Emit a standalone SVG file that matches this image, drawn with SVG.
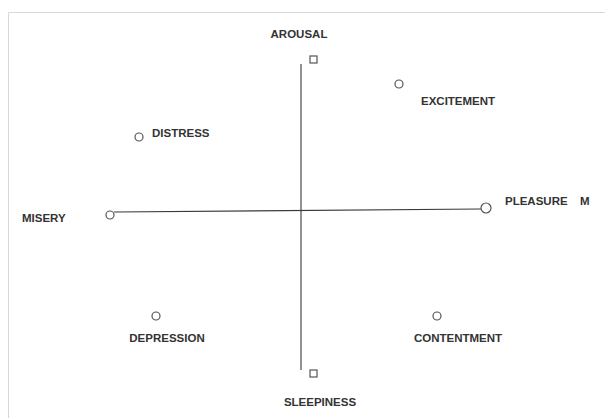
<svg xmlns="http://www.w3.org/2000/svg" width="605" height="418" viewBox="0 0 605 418">
<style>
.lbl{font-family:"Liberation Sans",Arial,sans-serif;font-weight:bold;font-size:11.5px;fill:#333}
.mk{fill:#fff;stroke:#555;stroke-width:1.2}
.ax{stroke:#3a3a3a;stroke-width:1.1;fill:none}
</style>
<rect x="0" y="0" width="605" height="418" fill="#fff"/>
<path d="M8.5 418 V12.5 H605" stroke="#d8d8d8" stroke-width="1" fill="none"/>
<g id="connectors">
<line class="ax" x1="301" y1="64" x2="301" y2="370"/>
<line class="ax" x1="114" y1="212" x2="481" y2="209"/>
</g>
<g id="arousal"><rect class="mk" x="310" y="56" width="7" height="7"/><text class="lbl" x="299" y="38" text-anchor="middle">AROUSAL</text></g>
<g id="sleepiness"><rect class="mk" x="310" y="370" width="7" height="7"/><text class="lbl" x="320" y="406" text-anchor="middle">SLEEPINESS</text></g>
<g id="misery"><circle class="mk" cx="110" cy="215" r="4"/><text class="lbl" x="22" y="222">MISERY</text></g>
<g id="pleasure"><circle class="mk" cx="486" cy="208" r="5"/><text class="lbl" x="505" y="205">PLEASURE</text><text class="lbl" x="580" y="205">M</text></g>
<g id="excitement"><circle class="mk" cx="399" cy="84" r="4"/><text class="lbl" x="421" y="105">EXCITEMENT</text></g>
<g id="distress"><circle class="mk" cx="139" cy="137" r="4"/><text class="lbl" x="152" y="137">DISTRESS</text></g>
<g id="depression"><circle class="mk" cx="156" cy="316" r="4"/><text class="lbl" x="167" y="342" text-anchor="middle">DEPRESSION</text></g>
<g id="contentment"><circle class="mk" cx="437" cy="316" r="4"/><text class="lbl" x="458" y="342" text-anchor="middle">CONTENTMENT</text></g>
</svg>
